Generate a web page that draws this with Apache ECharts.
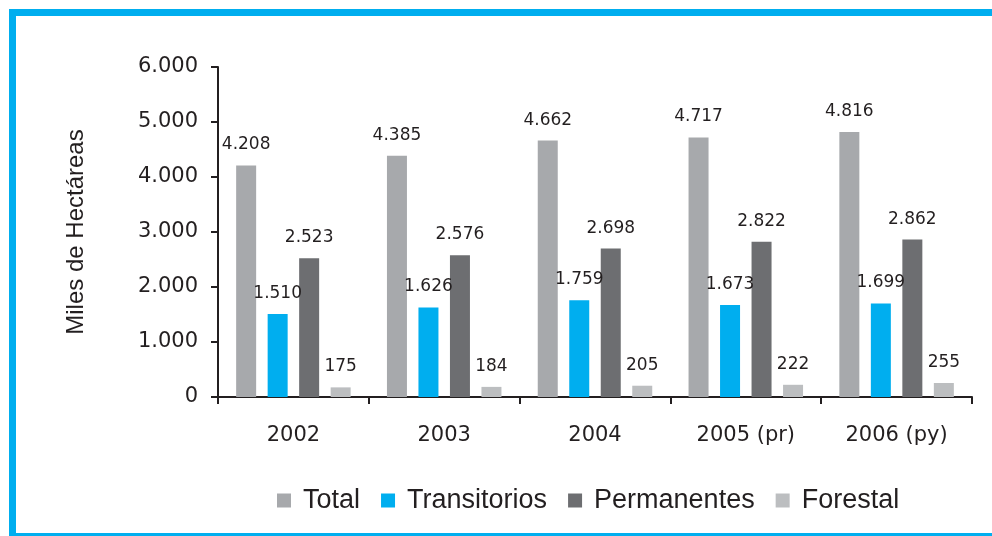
<!DOCTYPE html>
<html>

<head>
    <meta charset="utf-8">
    <title>Miles de Hectáreas</title>
    <script type="text/javascript" src="https://cdn.jsdelivr.net/npm/echarts@6/dist/echarts.min.js"></script>
    <style>
        html,
        body {
            margin: 0;
            padding: 0;
            background: #fff;
        }

        #app {
            width: 992px;
            height: 536px;
        }
    </style>
</head>

<body>
    <div id="app"></div>
</body>
<script type="text/javascript">
    var years = ['2002', '2003', '2004', '2005 (pr)', '2006 (py)'];
    var total = [4208, 4385, 4662, 4717, 4816];
    var transitorios = [1510, 1626, 1759, 1673, 1699];
    var permanentes = [2523, 2576, 2698, 2822, 2862];
    var forestal = [175, 184, 205, 222, 255];

    var ink = '#231f20';

    // miles con punto: 4208 -> 4.208
    function fmt(v) {
        return String(v).replace(/\B(?=(\d{3})+(?!\d))/g, '.');
    }

    function serie(name, data, color) {
        return {
            name: name,
            type: 'bar',
            data: data,
            barWidth: 20,
            barGap: '57.5%',
            itemStyle: { color: color },
            label: {
                show: true,
                position: 'top',
                distance: 12,
                color: ink,
                fontFamily: 'DejaVu Sans',
                fontSize: 17,
                formatter: function (p) { return fmt(p.value); }
            }
        };
    }

    var option = {
        animation: false,
        graphic: [{
            type: 'rect',
            shape: { x: 12.5, y: 12.5, width: 1000, height: 524 },
            style: { fill: 'none', stroke: '#00aeef', lineWidth: 7 }
        }],
        legend: {
            left: 272,
            top: 482,
            itemWidth: 14,
            itemHeight: 14,
            itemGap: 21,
            icon: 'rect',
            textStyle: {
                fontFamily: 'Liberation Sans',
                fontSize: 27,
                color: ink,
                padding: [0, 0, 0, 7]
            },
            data: ['Total', 'Transitorios', 'Permanentes', 'Forestal']
        },
        grid: {
            left: 218,
            right: 20,
            top: 67,
            bottom: 139
        },
        xAxis: {
            type: 'category',
            data: years,
            axisLine: { lineStyle: { color: ink, width: 2 } },
            axisTick: { show: true, length: 7, lineStyle: { color: ink, width: 2 } },
            axisLabel: {
                margin: 28,
                color: ink,
                fontFamily: 'DejaVu Sans',
                fontSize: 21
            }
        },
        yAxis: {
            type: 'value',
            min: 0,
            max: 6000,
            interval: 1000,
            name: 'Miles de Hectáreas',
            nameLocation: 'middle',
            nameGap: 130,
            nameTextStyle: {
                fontFamily: 'Liberation Sans',
                fontSize: 24,
                color: ink
            },
            axisLine: { show: true, lineStyle: { color: ink, width: 2 } },
            axisTick: { show: true, length: 7, lineStyle: { color: ink, width: 2 } },
            splitLine: { show: false },
            axisLabel: {
                margin: 20,
                color: ink,
                fontFamily: 'DejaVu Sans',
                fontSize: 21,
                formatter: function (v) { return fmt(v); }
            }
        },
        series: [
            serie('Total', total, '#a7a9ac'),
            serie('Transitorios', transitorios, '#00aeef'),
            serie('Permanentes', permanentes, '#6d6e71'),
            serie('Forestal', forestal, '#bcbec0')
        ]
    };

    var myChart = echarts.init(document.getElementById('app'));
    myChart.setOption(option);
</script>

</html>
